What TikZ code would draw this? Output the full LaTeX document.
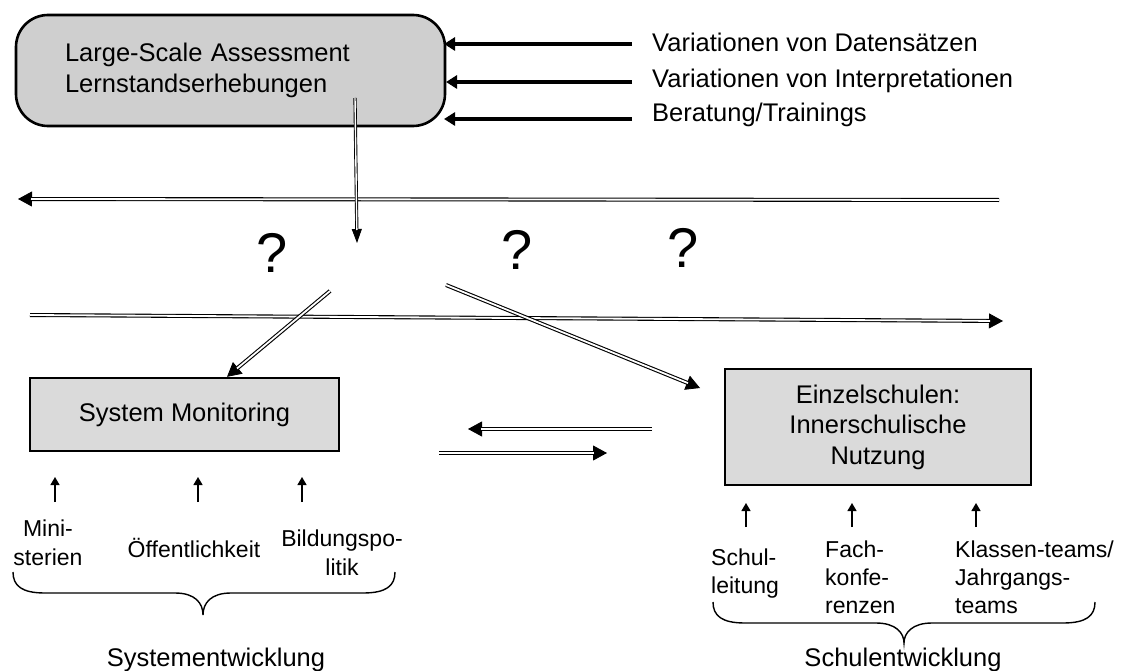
\documentclass[tikz,border=0pt]{standalone}
\usepackage{fontspec}
\setmainfont{Liberation Sans}
\usetikzlibrary{arrows.meta}

\definecolor{topgray}{HTML}{CFCFCF}
\definecolor{boxgray}{HTML}{DADADA}

\newcommand\fbig{\fontsize{25.5}{30.5}\selectfont}
\newcommand\flbl{\fontsize{23}{29}\selectfont}
\newcommand\fquery{\fontsize{56}{56}\selectfont}

% double-line connector: single line with tip first, double body on top
\newcommand\dblconn[3][]{%
  \draw[dbltip,#1] #2 -- #3;
  \draw[dblbody,#1] #2 -- #3;}

\begin{document}
\begin{tikzpicture}[x=1pt,y=-1pt,
  dbltip/.style={line width=0.8pt, -{Triangle[length=14pt,width=15pt]}},
  dblbody/.style={double, double distance=1.8pt, line width=1.1pt, shorten >=13pt},
  thinbody/.style={double distance=1.4pt, line width=0.9pt},
  narrowtip/.style={-{Triangle[length=14pt,width=10pt]}},
  feed/.style={line width=3.5pt, -{Triangle[length=11pt,width=13pt]}},
  uparrow/.style={line width=1.3pt, -{Triangle[length=8pt,width=9pt]}},
  brace/.style={line width=1.4pt},
  bigbox/.style={draw, line width=2.4pt, fill=boxgray, inner sep=0pt},
  side/.style={anchor=base west, font=\fbig, inner sep=0pt},
  lbl/.style={font=\flbl, inner sep=0pt},
  actor/.style={inner sep=0pt, align=left, anchor=base west, font=\fontsize{23}{28}\selectfont},
  title/.style={font=\fbig, inner sep=0pt},
  query/.style={font=\fquery, inner sep=0pt}]

\useasboundingbox (0,0) rectangle (1123,671);

% Source box
\node[draw, line width=2.6pt, fill=topgray, rounded corners=32pt,
      minimum width=429pt, minimum height=111pt, text width=331pt,
      align=left, font=\fbig, inner sep=0pt] (lsa) at (230.5,70.5)
  {Large-Scale Assessment\\Lernstandserhebungen};

% Influences on the source
\node[side] (v1) at (652,52) {Variationen von Datensätzen};
\node[side] (v2) at (652,88) {Variationen von Interpretationen};
\node[side] (v3) at (652,122) {Beratung/Trainings};
\coordinate (f1s) at (632,44);  \coordinate (f1e) at (444,44);
\coordinate (f2s) at (632,82);  \coordinate (f2e) at (446,82);
\coordinate (f3s) at (632,119); \coordinate (f3e) at (444,119);
\draw[feed] (f1s) -- (f1e);
\draw[feed] (f2s) -- (f2e);
\draw[feed] (f3s) -- (f3e);

% Long flows across the picture
\coordinate (topR) at (999,200);  \coordinate (topL) at (18,199);
\coordinate (botL) at (30,315);   \coordinate (botR) at (1003,321);
\dblconn{(topR)}{(topL)}
\dblconn{(botL)}{(botR)}

% Flow down from the source
\coordinate (down0) at (355,98);  \coordinate (down1) at (357,243);
\draw[line width=0.8pt, narrowtip] (down0) -- (down1);
\draw[double, thinbody, shorten >=13pt] (down0) -- (down1);

% Open questions
\node[query] (q1) at (272,253) {?};
\node[query] (q2) at (517,250) {?};
\node[query] (q3) at (683,248) {?};

% Target boxes
\node[bigbox, minimum width=309pt, minimum height=73pt, font=\fbig] (sm) at (184.5,414.5) {System Monitoring};
\node[bigbox, minimum width=306pt, minimum height=116pt, font=\fbig, align=center] (es) at (878,427)
  {Einzelschulen:\\Innerschulische\\Nutzung};

\coordinate (smS) at (330,291);
\coordinate (esS) at (446,285);
\dblconn{(smS)}{(sm.north -| 227,0)}
\dblconn{(esS)}{(700,388)}

% Exchange between the two sides
\coordinate (xL1) at (652,429); \coordinate (xL2) at (468,429);
\coordinate (xR1) at (439,453); \coordinate (xR2) at (607,453);
\dblconn{(xL1)}{(xL2)}
\dblconn{(xR1)}{(xR2)}

% Actors: system side
\node[lbl, align=center] (min) at (48,543) {Mini-\\sterien};
\node[lbl] (oef) at (194,548) {Öffentlichkeit};
\node[lbl, align=center] (bil) at (342,553) {Bildungspo-\\litik};
\draw[uparrow] (55,502) -- (55,477);
\draw[uparrow] (198,502) -- (198,477);
\draw[uparrow] (302,502) -- (302,477);

% Actors: school side (anchored at the baseline of the last line)
\node[actor] (sl) at (711,593) {Schul-\\leitung};
\node[actor] (fk) at (825,613) {Fach-\\konfe-\\renzen};
\node[actor] (kt) at (955,613) {Klassen-teams/\\Jahrgangs-\\teams};
\draw[uparrow] (746,527) -- (746,503);
\draw[uparrow] (852,527) -- (852,503);
\draw[uparrow] (976,527) -- (976,503);

% Braces
\draw[brace] (13,572) .. controls (13,586) and (22,593) .. (45,593) -- (175,593)
  .. controls (195,593) and (203,603) .. (203,615)
  .. controls (203,603) and (211,593) .. (231,593) -- (363,593)
  .. controls (386,593) and (395,586) .. (395,572);
\draw[brace] (713,602) .. controls (713,616) and (722,623) .. (745,623) -- (876,623)
  .. controls (896,623) and (904,633) .. (904,643)
  .. controls (904,633) and (912,623) .. (932,623) -- (1063,623)
  .. controls (1086,623) and (1095,616) .. (1095,602);

% Titles
\node[title] (sys) at (216,660) {Systementwicklung};
\node[title] (sch) at (903,660) {Schulentwicklung};

\end{tikzpicture}
\end{document}
